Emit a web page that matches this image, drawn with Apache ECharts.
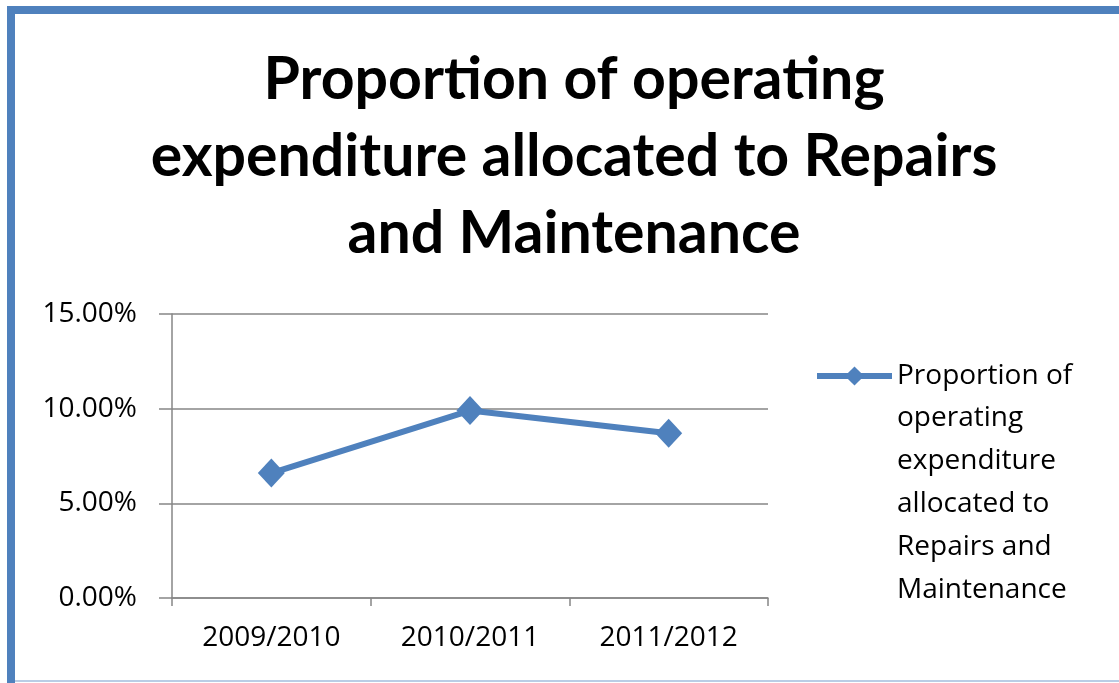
<!DOCTYPE html>
<html>
<head>
<meta charset="utf-8">
<script src="https://cdn.jsdelivr.net/npm/echarts@6/dist/echarts.min.js"></script>
<style>
  html, body { margin: 0; padding: 0; background: #ffffff; }
  #chart { width: 1119px; height: 683px; }
</style>
</head>
<body>
<div id="chart"></div>
<script>
// Financial years on the category axis
const years = ['2009/2010', '2010/2011', '2011/2012'];
// Share of operating expenditure spent on repairs and maintenance
const repairsShare = [0.066, 0.099, 0.087];
// Value axis ticks
const yTicks = [0, 0.05, 0.10, 0.15];

const seriesName = 'Proportion of operating expenditure allocated to Repairs and Maintenance';
// Legend entry wrapped over several lines
const legendLines = ['Proportion of', 'operating', 'expenditure', 'allocated to', 'Repairs and', 'Maintenance'];

const blue = '#4F81BD';
const gray = '#868686';
const textFont = 'Open Sans';
const textSize = 28;
const legendLineHeight = 43;

const chart = echarts.init(document.getElementById('chart'));
chart.setOption({
  backgroundColor: '#ffffff',
  animation: false,
  title: {
    text: 'Proportion of operating\nexpenditure allocated to Repairs\nand Maintenance',
    left: 569,
    textAlign: 'center',
    top: 36,
    textStyle: {
      fontFamily: 'Lato',
      fontWeight: 'bold',
      fontSize: 59,
      lineHeight: 77,
      color: '#000000'
    }
  },
  graphic: [
    {
      // chart frame
      type: 'rect',
      shape: { x: 11, y: 10, width: 1300, height: 1000 },
      style: { fill: null, stroke: blue, lineWidth: 8 },
      silent: true,
      z: 10
    },
    {
      type: 'line',
      shape: { x1: 15, y1: 681, x2: 1119, y2: 681 },
      style: { stroke: '#b9cde5', lineWidth: 2 },
      silent: true,
      z: 10
    },
    {
      // continuation lines of the legend entry
      type: 'text',
      left: 897,
      top: 397,
      style: {
        text: legendLines.slice(1).join('\n'),
        font: textSize + 'px "' + textFont + '"',
        lineHeight: legendLineHeight,
        fill: '#000000'
      },
      silent: true
    }
  ],
  grid: { left: 172, right: 351, top: 314, bottom: 85, containLabel: false },
  legend: {
    orient: 'vertical',
    left: 814,
    top: 362,
    padding: 0,
    itemWidth: 75,
    itemHeight: 24,
    itemGap: 0,
    data: [seriesName],
    formatter: () => legendLines[0],
    lineStyle: { width: 6, color: blue },
    itemStyle: { color: blue },
    textStyle: {
      fontFamily: textFont,
      fontSize: textSize,
      color: '#000000'
    }
  },
  xAxis: {
    type: 'category',
    data: years,
    boundaryGap: true,
    axisLine: { lineStyle: { color: gray, width: 1.5 } },
    axisTick: { show: true, length: 8, lineStyle: { color: gray, width: 1.5 } },
    axisLabel: {
      margin: 26,
      fontFamily: textFont,
      fontSize: textSize,
      color: '#000000'
    }
  },
  yAxis: {
    type: 'value',
    min: 0,
    max: 0.15,
    interval: 0.05,
    axisLine: { show: true, lineStyle: { color: gray, width: 1.5 } },
    axisTick: { show: true, length: 13, lineStyle: { color: gray, width: 1.5 } },
    splitLine: { show: true, lineStyle: { color: gray, width: 1.5 } },
    axisLabel: {
      margin: 35,
      fontFamily: textFont,
      fontSize: textSize,
      color: '#000000',
      formatter: v => yTicks.some(t => Math.abs(t - v) < 1e-9) ? (v * 100).toFixed(2) + '%' : ''
    }
  },
  series: [{
    name: seriesName,
    type: 'line',
    data: repairsShare,
    symbol: 'diamond',
    symbolSize: [27, 29],
    lineStyle: { color: blue, width: 6 },
    itemStyle: { color: blue },
    emphasis: { disabled: true }
  }]
});
</script>
</body>
</html>
